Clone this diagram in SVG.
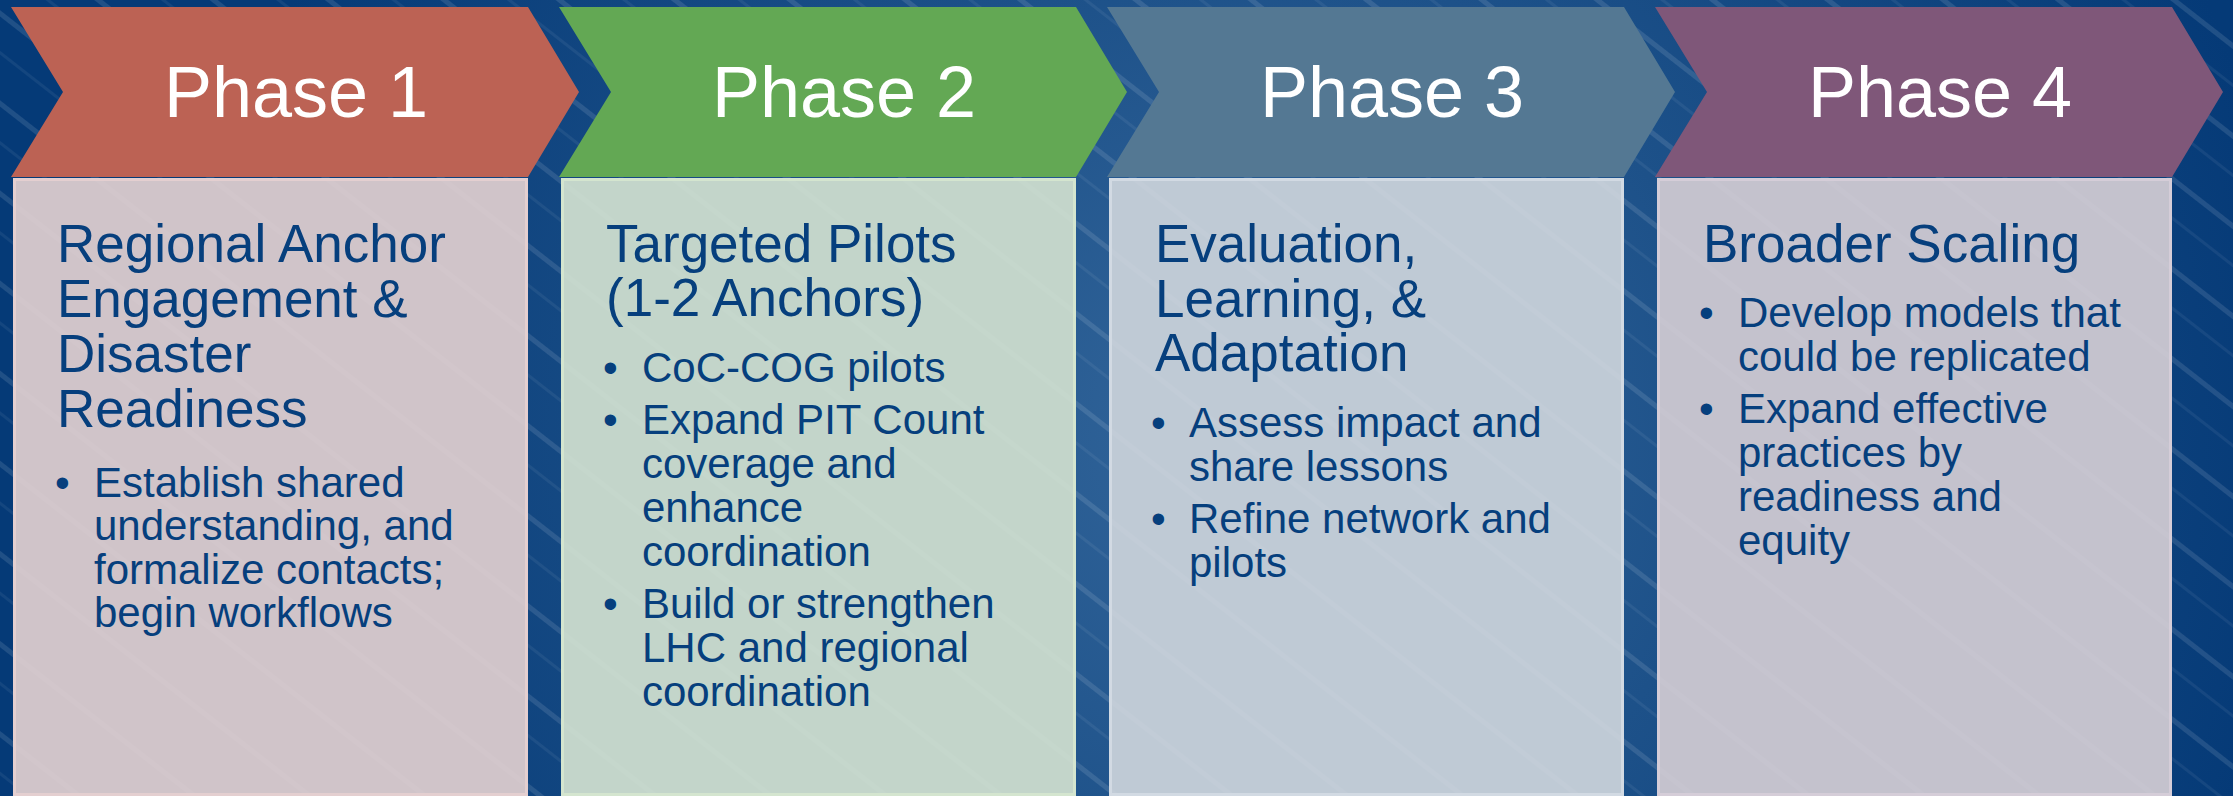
<svg xmlns="http://www.w3.org/2000/svg" width="2233" height="796" viewBox="0 0 2233 796">
  <defs>
    <radialGradient id="bg" cx="1250" cy="430" r="1050" gradientUnits="userSpaceOnUse">
      <stop offset="0" stop-color="#33669b"/>
      <stop offset="0.45" stop-color="#1d5189"/>
      <stop offset="1" stop-color="#053a77"/>
    </radialGradient>
    <pattern id="streaks" width="80" height="71" patternUnits="userSpaceOnUse" patternTransform="rotate(38)">
      <rect x="0" y="8" width="80" height="5" fill="#ffffff" opacity="0.11"/>
      <rect x="0" y="40" width="80" height="3" fill="#ffffff" opacity="0.06"/>
    </pattern>
    <pattern id="streaksBox" width="80" height="71" patternUnits="userSpaceOnUse" patternTransform="rotate(38)">
      <rect x="0" y="8" width="80" height="5" fill="#ffffff" opacity="0.04"/>
    </pattern>
  </defs>
  <style>
    .phase { font-family: "Liberation Sans", Arial, sans-serif; font-size: 72px; fill: #ffffff; text-anchor: middle; }
    .title { font-family: "Liberation Sans", Arial, sans-serif; font-size: 53px; fill: #063f7d; }
    .bul { font-family: "Liberation Sans", Arial, sans-serif; font-size: 42px; fill: #063f7d; }
    .box { stroke-width: 3; }
    .ov { fill: url(#streaksBox); }
  </style>

  <rect x="0" y="0" width="2233" height="796" fill="url(#bg)"/>
  <rect x="0" y="0" width="2233" height="796" fill="url(#streaks)"/>

  <g id="connectors"/>

  <g id="phase1">
    <path d="M11,7 H528 L579,92 L528,177 H11 L63,92 Z" fill="#bc6254"/>
    <text class="phase" x="296" y="117">Phase 1</text>
    <rect class="box" x="14.5" y="179.5" width="512" height="615" fill="#d0c4c9" stroke="#e4cfd0"/>
    <rect class="ov" x="16" y="181" width="509" height="612"/>
    <text class="title"><tspan x="57" y="262">Regional Anchor</tspan><tspan x="57" y="317">Engagement &amp;</tspan><tspan x="57" y="372">Disaster</tspan><tspan x="57" y="427">Readiness</tspan></text>
    <text class="bul" x="55" y="497">•</text>
    <text class="bul"><tspan x="94" y="497">Establish shared</tspan><tspan x="94" y="540">understanding, and</tspan><tspan x="94" y="584">formalize contacts;</tspan><tspan x="94" y="627">begin workflows</tspan></text>
  </g>

  <g id="phase2">
    <path d="M559,7 H1076 L1127,92 L1076,177 H559 L611,92 Z" fill="#63a854"/>
    <text class="phase" x="844" y="117">Phase 2</text>
    <rect class="box" x="562.5" y="179.5" width="512" height="615" fill="#c3d5ca" stroke="#d4e5cf"/>
    <rect class="ov" x="564" y="181" width="509" height="612"/>
    <text class="title"><tspan x="606" y="262">Targeted Pilots</tspan><tspan x="606" y="316">(1-2 Anchors)</tspan></text>
    <text class="bul" x="603" y="382">•</text>
    <text class="bul" x="603" y="434">•</text>
    <text class="bul" x="603" y="618">•</text>
    <text class="bul"><tspan x="642" y="382">CoC-COG pilots</tspan><tspan x="642" y="434">Expand PIT Count</tspan><tspan x="642" y="478">coverage and</tspan><tspan x="642" y="522">enhance</tspan><tspan x="642" y="566">coordination</tspan><tspan x="642" y="618">Build or strengthen</tspan><tspan x="642" y="662">LHC and regional</tspan><tspan x="642" y="706">coordination</tspan></text>
  </g>

  <g id="phase3">
    <path d="M1107,7 H1624 L1675,92 L1624,177 H1107 L1159,92 Z" fill="#547893"/>
    <text class="phase" x="1392" y="117">Phase 3</text>
    <rect class="box" x="1110.5" y="179.5" width="512" height="615" fill="#bfcad5" stroke="#d2dae3"/>
    <rect class="ov" x="1112" y="181" width="509" height="612"/>
    <text class="title"><tspan x="1155" y="262">Evaluation,</tspan><tspan x="1155" y="317">Learning, &amp;</tspan><tspan x="1155" y="371">Adaptation</tspan></text>
    <text class="bul" x="1151" y="437">•</text>
    <text class="bul" x="1151" y="533">•</text>
    <text class="bul"><tspan x="1189" y="437">Assess impact and</tspan><tspan x="1189" y="481">share lessons</tspan><tspan x="1189" y="533">Refine network and</tspan><tspan x="1189" y="577">pilots</tspan></text>
  </g>

  <g id="phase4">
    <path d="M1655,7 H2172 L2223,92 L2172,177 H1655 L1707,92 Z" fill="#7f5779"/>
    <text class="phase" x="1940" y="117">Phase 4</text>
    <rect class="box" x="1658.5" y="179.5" width="512" height="615" fill="#c4c2cd" stroke="#d5cdd8"/>
    <rect class="ov" x="1660" y="181" width="509" height="612"/>
    <text class="title"><tspan x="1703" y="262">Broader Scaling</tspan></text>
    <text class="bul" x="1699" y="327">•</text>
    <text class="bul" x="1699" y="423">•</text>
    <text class="bul"><tspan x="1738" y="327">Develop models that</tspan><tspan x="1738" y="371">could be replicated</tspan><tspan x="1738" y="423">Expand effective</tspan><tspan x="1738" y="467">practices by</tspan><tspan x="1738" y="511">readiness and</tspan><tspan x="1738" y="555">equity</tspan></text>
  </g>
</svg>
